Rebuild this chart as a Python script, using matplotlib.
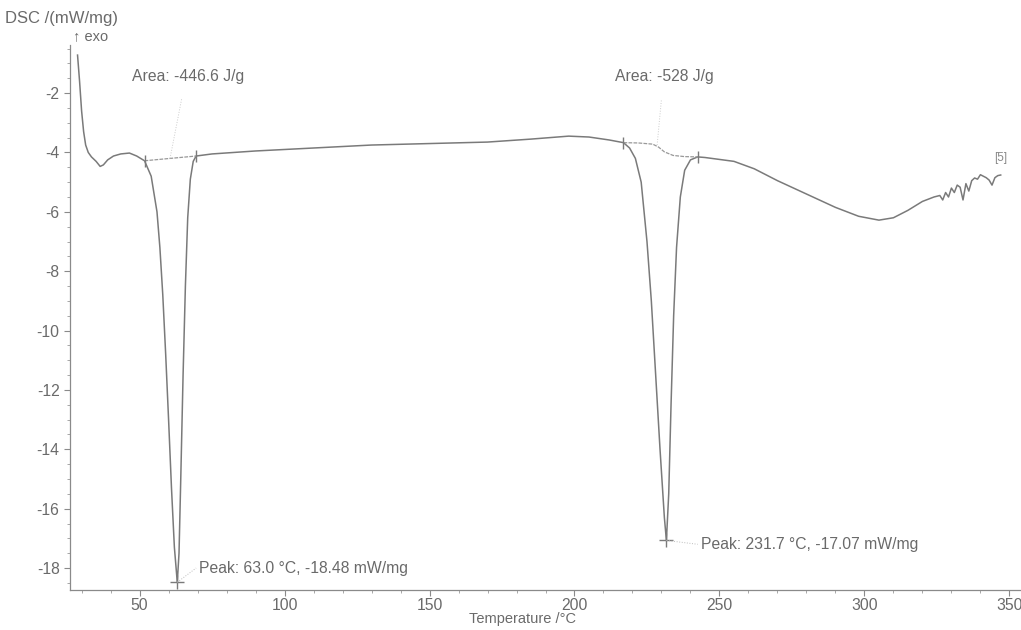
import matplotlib.pyplot as plt
from matplotlib.ticker import MultipleLocator

plt.rcParams['font.family'] = ['Liberation Sans', 'DejaVu Sans']
plt.rcParams['axes.unicode_minus'] = False

# DSC curve (Temperature in degC, DSC in mW/mg)
temp = [28.6, 29.3, 30.0, 30.7, 31.4, 32.3, 33.4, 35.0, 36.4, 37.5, 39.0, 41.0, 43.5,
        46.5, 49.0, 51.7,
        54.0, 56.0, 57.0, 58.0, 59.0, 60.0, 61.0, 62.0, 63.0, 63.6, 64.2, 65.0, 65.8,
        66.6, 67.5, 68.5, 69.5,
        75, 90, 110, 130, 150, 170, 185, 198, 205, 212, 216.9,
        219, 221, 223, 225, 226.5, 228, 229.5, 231, 231.7, 232.5, 233.3, 234.2, 235.2,
        236.5, 238, 240, 242.5,
        245, 255, 262, 270, 280, 290, 298, 305, 310, 315, 320, 324,
        326, 327, 328, 329, 330, 331, 332, 333, 334, 335, 336, 337, 338, 339, 340,
        341, 342, 343, 344, 345, 346, 347]
dsc = [-0.72, -1.6, -2.6, -3.3, -3.75, -4.0, -4.15, -4.3, -4.47, -4.42, -4.25, -4.12, -4.05,
       -4.02, -4.12, -4.28,
       -4.8, -6.0, -7.2, -8.8, -10.8, -13.0, -15.3, -17.3, -18.48, -17.5, -15.0, -11.5, -8.5,
       -6.2, -4.9, -4.3, -4.12,
       -4.05, -3.95, -3.85, -3.75, -3.7, -3.65, -3.55, -3.45, -3.48, -3.58, -3.67,
       -3.85, -4.2, -5.0, -7.0, -9.0, -11.5, -14.0, -16.3, -17.07, -15.5, -12.5, -9.5, -7.2,
       -5.5, -4.6, -4.25, -4.15,
       -4.17, -4.3, -4.55, -4.95, -5.4, -5.85, -6.15, -6.28, -6.2, -5.95, -5.65, -5.5,
       -5.45, -5.6, -5.35, -5.5, -5.2, -5.35, -5.1, -5.17, -5.6, -5.05, -5.3, -4.95, -4.86, -4.9, -4.75,
       -4.8, -4.85, -4.93, -5.1, -4.85, -4.78, -4.76]

# integration baselines
base1_t = [51.7, 69.5]
base1_y = [-4.28, -4.12]
base2_t = [216.9, 222, 227, 229, 231, 234, 238, 242.5]
base2_y = [-3.67, -3.68, -3.72, -3.82, -3.98, -4.1, -4.14, -4.15]

peaks = [(63.0, -18.48), (231.7, -17.07)]
peak_labels = ["Peak: 63.0 \u00b0C, -18.48 mW/mg", "Peak: 231.7 \u00b0C, -17.07 mW/mg"]
peak_label_pos = [(69.5, -18.0), (242.5, -17.2)]
area_labels = ["Area: -446.6 J/g", "Area: -528 J/g"]
area_label_pos = [(47.5, -1.45), (214.0, -1.45)]
area_leaders = [((60.5, -4.2), (64.5, -2.2)), ((228.5, -3.75), (230.0, -2.2))]

GRAY = "#7a7a7a"
TEXT = "#6a6a6a"

fig = plt.figure(figsize=(10.21, 6.30), dpi=100)
ax = fig.add_axes([70 / 1021, 1 - 590 / 630, 951 / 1021, 545 / 630])

ax.plot(temp, dsc, color=GRAY, linewidth=1.1)
ax.plot(base1_t, base1_y, color="#999999", linewidth=0.9, linestyle=(0, (3, 1)))
ax.plot(base2_t, base2_y, color="#999999", linewidth=0.9, linestyle=(0, (3, 1)))
ax.plot([base1_t[0], base1_t[-1], base2_t[0], base2_t[-1]],
        [base1_y[0], base1_y[-1], base2_y[0], base2_y[-1]],
        linestyle="none", marker="|", markersize=9, color=GRAY)
ax.plot([p[0] for p in peaks], [p[1] for p in peaks],
        linestyle="none", marker="+", markersize=10, color=GRAY)

for (px, py), (lx, ly), txt in zip(peaks, peak_label_pos, peak_labels):
    ax.plot([px, lx], [py, ly], color="#bbbbbb", linewidth=0.7, linestyle=":")
    ax.text(lx + 1, ly, txt, fontsize=11.3, color=TEXT, va="center", ha="left")

for (a, b), (lx, ly), txt in zip(area_leaders, area_label_pos, area_labels):
    ax.plot([a[0], b[0]], [a[1], b[1]], color="#cccccc", linewidth=0.7, linestyle=":")
    ax.text(lx, ly, txt, fontsize=11.3, color=TEXT, va="center", ha="left")

ax.text(344.8, -4.18, "[5]", fontsize=8.5, color="#888888", ha="left", va="center")

ax.set_xlim(26, 354)
ax.set_ylim(-18.74, -0.38)
ax.xaxis.set_major_locator(MultipleLocator(50))
ax.xaxis.set_minor_locator(MultipleLocator(10))
ax.yaxis.set_major_locator(MultipleLocator(2))
ax.yaxis.set_minor_locator(MultipleLocator(0.5))
ax.set_yticks(range(-18, -1, 2))

for side in ["top", "right"]:
    ax.spines[side].set_visible(False)
for side in ["left", "bottom"]:
    ax.spines[side].set_color("#8a8a8a")
    ax.spines[side].set_linewidth(0.9)
    ax.spines[side].set_linestyle((0, (4, 1)))

ax.tick_params(axis="both", which="major", length=4, width=0.8, color="#8a8a8a",
               labelcolor=TEXT, labelsize=11.3)
ax.tick_params(axis="both", which="minor", length=2, width=0.6, color="#9a9a9a")
ax.tick_params(axis="x", pad=2)

fig.text(5 / 1021, 1 - 18 / 630, "DSC /(mW/mg)", fontsize=12, color=TEXT, va="center", ha="left")
fig.text(73 / 1021, 1 - 36 / 630, "\u2191 exo", fontsize=10.5, color=TEXT, va="center", ha="left")
fig.text(522 / 1021, 1 - 619 / 630, "Temperature /\u00b0C", fontsize=10.5, color=TEXT,
         va="center", ha="center")

fig.savefig("out.png", dpi=100)
